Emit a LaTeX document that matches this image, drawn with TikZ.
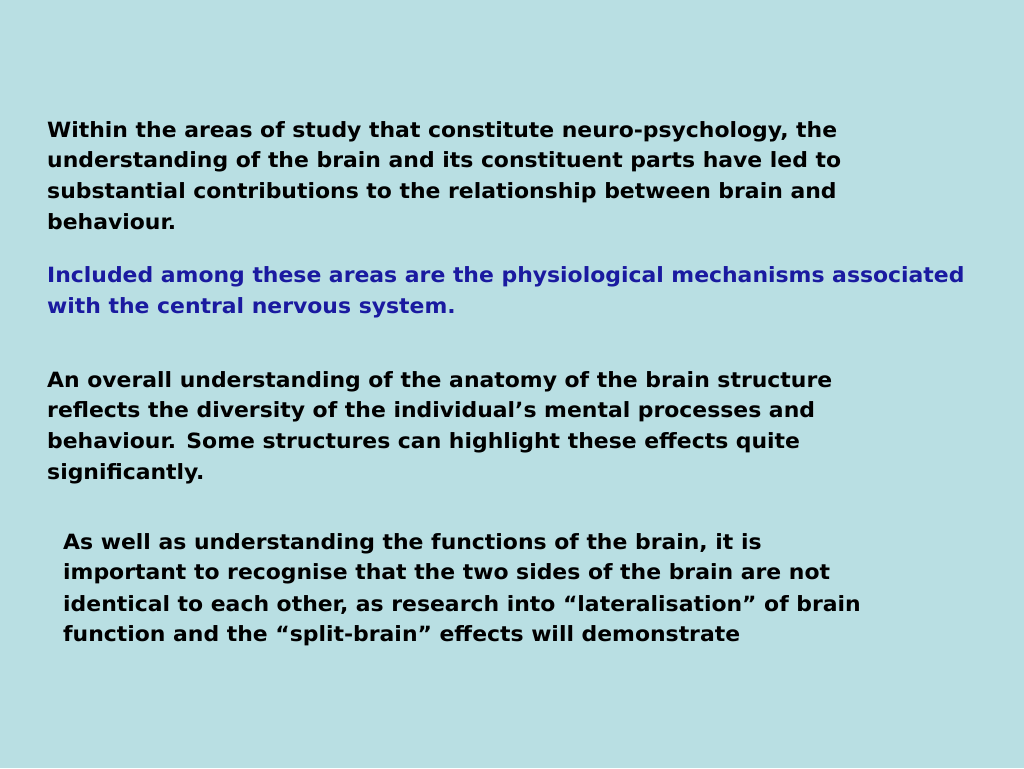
\documentclass[tikz,border=0pt]{standalone}
\usepackage{fontspec}
\setmainfont[FakeStretch=1.16]{DejaVu Sans Condensed}
\definecolor{bg}{HTML}{B9DFE3}
\definecolor{tblue}{HTML}{1A1AA0}
\begin{document}
\begin{tikzpicture}[x=1pt,y=1pt,
  ln/.style={anchor=base west,inner sep=0pt,font=\fontsize{21}{26}\selectfont\bfseries},
  bl/.style={ln,text=tblue}]
\fill[bg] (0,0) rectangle (1024,768);
\useasboundingbox (0,0) rectangle (1024,768);
\node[ln] (a1) at (47,768-138) {Within the areas of study that constitute neuro-psychology, the};
\node[ln] (a2) at (47,768-168) {understanding of the brain and its constituent parts have led to};
\node[ln] (a3) at (47,768-199) {substantial contributions to the relationship between brain and};
\node[ln] (a4) at (47,768-230) {behaviour.};
\node[bl] (b1) at (47,768-283) {Included among these areas are the physiological mechanisms associated};
\node[bl] (b2) at (47,768-314) {with the central nervous system.};
\node[ln] (c1) at (47,768-388) {An overall understanding of the anatomy of the brain structure};
\node[ln] (c2) at (47,768-418) {reflects the diversity of the individual’s mental processes and};
\node[ln] (c3) at (47,768-449) {behaviour. Some structures can highlight these effects quite};
\node[ln] (c4) at (47,768-480) {significantly.};
\node[ln] (d1) at (63,768-550) {As well as understanding the functions of the brain, it is};
\node[ln] (d2) at (63,768-580) {important to recognise that the two sides of the brain are not};
\node[ln] (d3) at (63,768-611) {identical to each other, as research into “lateralisation” of brain};
\node[ln] (d4) at (63,768-641) {function and the “split-brain” effects will demonstrate};
\end{tikzpicture}
\end{document}
